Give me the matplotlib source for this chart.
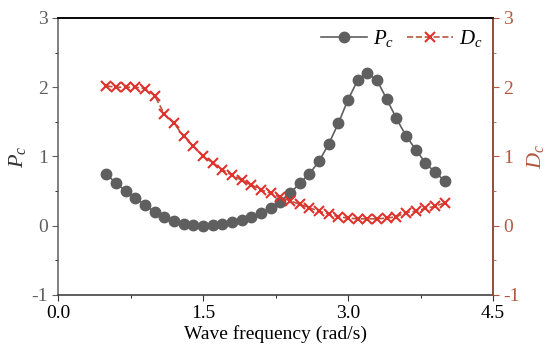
import numpy as np
import matplotlib
matplotlib.use('Agg')
import matplotlib.pyplot as plt
from matplotlib.ticker import MultipleLocator

plt.rcParams['font.family'] = ['Liberation Serif', 'DejaVu Serif']
plt.rcParams['mathtext.fontset'] = 'custom'
plt.rcParams['mathtext.it'] = 'Liberation Serif:italic'
plt.rcParams['mathtext.rm'] = 'Liberation Serif'
plt.rcParams['axes.unicode_minus'] = False

freq = [0.5, 0.6, 0.7, 0.8, 0.9, 1.0, 1.1, 1.2, 1.3, 1.4, 1.5, 1.6,
        1.7, 1.8, 1.9, 2.0, 2.1, 2.2, 2.3, 2.4, 2.5, 2.6, 2.7, 2.8,
        2.9, 3.0, 3.1, 3.2, 3.3, 3.4, 3.5, 3.6, 3.7, 3.8, 3.9, 4.0]
pc = [0.74, 0.62, 0.50, 0.40, 0.30, 0.20, 0.13, 0.07, 0.03, 0.01, 0.0, 0.01,
      0.02, 0.05, 0.08, 0.13, 0.19, 0.26, 0.35, 0.47, 0.61, 0.75, 0.93, 1.18,
      1.48, 1.82, 2.10, 2.21, 2.10, 1.83, 1.55, 1.30, 1.10, 0.91, 0.77, 0.65]
dc = [2.02, 2.0, 2.0, 2.0, 1.98, 1.88, 1.61, 1.48, 1.29, 1.15, 1.01, 0.91,
      0.81, 0.73, 0.66, 0.59, 0.52, 0.47, 0.41, 0.36, 0.31, 0.26, 0.21, 0.17,
      0.13, 0.11, 0.10, 0.10, 0.10, 0.11, 0.13, 0.19, 0.21, 0.25, 0.28, 0.33]

gray = '#5f5f5f'
brown = '#b5573f'
red = '#e0322c'

fig = plt.figure(figsize=(5.5, 3.6), dpi=100)
ax = fig.add_axes([0.1055, 0.1806, 0.7909, 0.7694])
ax2 = ax.twinx()

l1, = ax.plot(freq, pc, '-', color=gray, lw=1.2, marker='o', ms=7.5,
              mfc=gray, mec=gray, label='$P_c$')
l2, = ax2.plot(freq, dc, '--', color=brown, lw=1.2, marker='x', ms=7,
               mew=1.5, mec=red, label='$D_c$', zorder=3)

ax.set_xlim(0, 4.5)
ax.set_ylim(-1, 3)
ax2.set_ylim(-1, 3)
ax.xaxis.set_minor_locator(MultipleLocator(0.75))
ax.yaxis.set_major_locator(MultipleLocator(1))
ax.yaxis.set_minor_locator(MultipleLocator(0.5))
ax2.yaxis.set_major_locator(MultipleLocator(1))
ax2.yaxis.set_minor_locator(MultipleLocator(0.5))
ax.set_xticks([0, 1.5, 3.0, 4.5])
ax.set_xticklabels(['0.0', '1.5', '3.0', '4.5'])

fs = 14
ax.tick_params(axis='both', which='both', direction='out', labelsize=fs)
ax.tick_params(axis='y', colors=gray, labelcolor=gray)
ax.tick_params(axis='x', colors='#333333', labelcolor='black')
ax.tick_params(which='major', length=4)
ax.tick_params(which='minor', length=2.5)
ax2.tick_params(axis='y', which='both', colors=brown, labelcolor=brown, labelsize=fs)
ax2.tick_params(which='major', length=4)
ax2.tick_params(which='minor', length=2.5)

ax.spines['left'].set_color(gray)
ax.spines['bottom'].set_color('#333333')
ax.spines['top'].set_color('black')
ax2.spines['right'].set_color(brown)
ax2.spines['left'].set_visible(False)
ax2.spines['top'].set_color('black')
ax2.spines['bottom'].set_visible(False)
for s in ax.spines.values():
    s.set_linewidth(1.1)
for s in ax2.spines.values():
    s.set_linewidth(1.1)

ax.set_xlabel('Wave frequency (rad/s)', fontsize=fs, labelpad=2)
ax.set_ylabel('$P_c$', fontsize=fs + 2, color='#333333', labelpad=2)
ax2.set_ylabel('$D_c$', fontsize=fs + 2, color=brown, labelpad=4)

ax2.legend(handles=[l1, l2], loc='upper right', ncol=2, frameon=False,
           fontsize=fs + 1, handlelength=2.2, columnspacing=0.6,
           handletextpad=0.3, borderaxespad=0.1)

fig.savefig('out.png', dpi=100)
